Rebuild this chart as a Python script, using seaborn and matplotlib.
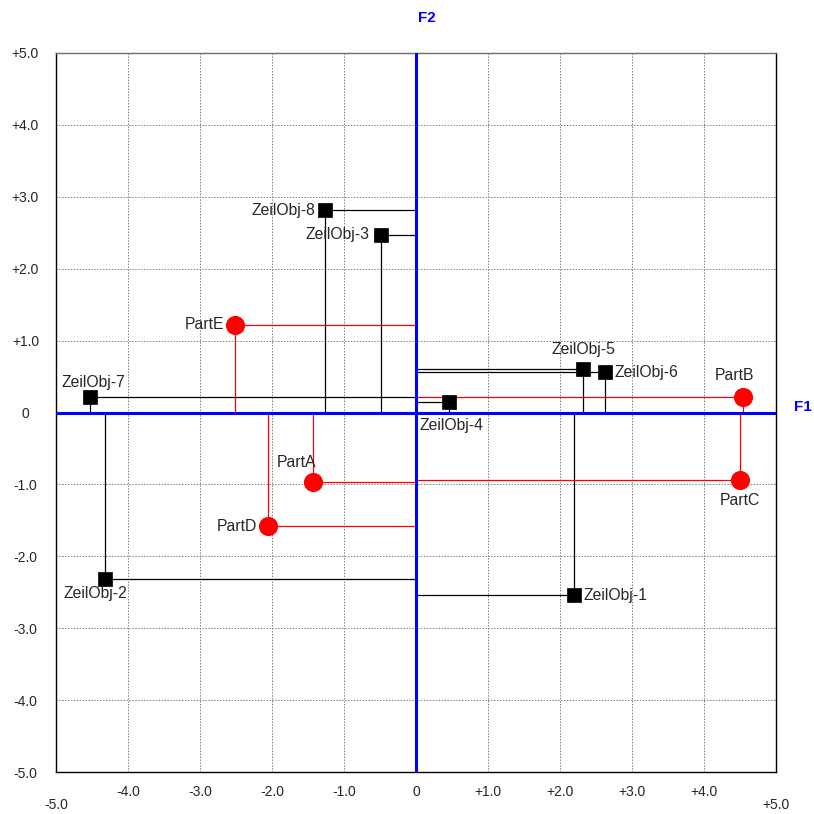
import numpy as np
import pandas as pd
import matplotlib
matplotlib.use("Agg")
import matplotlib.pyplot as plt
import seaborn as sns

# Zeilenobjekte (schwarze Quadrate)
row_names = ["ZeilObj-1", "ZeilObj-2", "ZeilObj-3", "ZeilObj-4",
             "ZeilObj-5", "ZeilObj-6", "ZeilObj-7", "ZeilObj-8"]
row_f1 = [2.19, -4.32, -0.49, 0.46, 2.32, 2.62, -4.53, -1.26]
row_f2 = [-2.54, -2.31, 2.47, 0.14, 0.61, 0.56, 0.21, 2.81]

# Spaltenobjekte (rote Kreise)
col_names = ["PartA", "PartB", "PartC", "PartD", "PartE"]
col_f1 = [-1.43, 4.54, 4.50, -2.06, -2.51]
col_f2 = [-0.97, 0.22, -0.94, -1.58, 1.22]

ticks = [-5, -4, -3, -2, -1, 0, 1, 2, 3, 4, 5]

# Beschriftungs-Offsets (Pixel) und Ausrichtung
row_offsets = {
    "ZeilObj-1": (10, 0, "left"), "ZeilObj-2": (-10, -15, "center"),
    "ZeilObj-3": (-11, 0, "right"), "ZeilObj-4": (2, -23, "center"),
    "ZeilObj-5": (0, 19, "center"), "ZeilObj-6": (10, 0, "left"),
    "ZeilObj-7": (4, 15, "center"), "ZeilObj-8": (-10, 0, "right"),
}
col_offsets = {
    "PartA": (-17, 20, "center"), "PartB": (-8, 21, "center"),
    "PartC": (0, -20, "center"), "PartD": (-11, 0, "right"),
    "PartE": (-11, 0, "right"),
}

rows = pd.DataFrame({"name": row_names, "F1": row_f1, "F2": row_f2})
cols = pd.DataFrame({"name": col_names, "F1": col_f1, "F2": col_f2})

sns.set_style("white")
plt.rcParams["font.family"] = ["Liberation Sans", "DejaVu Sans"]

fig = plt.figure(figsize=(8.14, 8.14), dpi=100)
ax = fig.add_axes([56 / 814, 42 / 814, 720 / 814, 719 / 814])

# Projektionslinien auf die Achsen
ax.hlines(rows["F2"], 0, rows["F1"], color="black", lw=0.9, zorder=2)
ax.vlines(rows["F1"], 0, rows["F2"], color="black", lw=0.9, zorder=2)
ax.hlines(cols["F2"], 0, cols["F1"], color="red", lw=0.9, zorder=2)
ax.vlines(cols["F1"], 0, cols["F2"], color="red", lw=0.9, zorder=2)

# Achsen F1 / F2
ax.axhline(0, color="#0000ff", lw=2.2, zorder=3)
ax.axvline(0, color="#0000ff", lw=2.2, zorder=3)

sns.scatterplot(data=rows, x="F1", y="F2", marker="s", s=110, color="black",
                edgecolor="black", linewidth=0.5, ax=ax, zorder=4)
sns.scatterplot(data=cols, x="F1", y="F2", marker="o", s=190, color="#ff0000",
                edgecolor="#ff0000", linewidth=0, ax=ax, zorder=4)

for _, r in rows.iterrows():
    dx, dy, ha = row_offsets[r["name"]]
    ax.annotate(r["name"], (r["F1"], r["F2"]), xytext=(dx, dy),
                textcoords="offset pixels", ha=ha, va="center", fontsize=11.3,
                zorder=5)
for _, r in cols.iterrows():
    dx, dy, ha = col_offsets[r["name"]]
    ax.annotate(r["name"], (r["F1"], r["F2"]), xytext=(dx, dy),
                textcoords="offset pixels", ha=ha, va="center", fontsize=11.3,
                zorder=5)

ax.set_xlim(-5, 5)
ax.set_ylim(-5, 5)


def fmt(v):
    if v == 0:
        return "0"
    return f"{v:+.1f}"


inner = ticks[1:-1]
ax.set_xticks(inner)
ax.set_xticklabels([fmt(v) for v in inner])
ax.set_xticks([-5, 5], minor=True)
ax.set_xticklabels([fmt(-5), fmt(5)], minor=True)
ax.set_yticks(ticks)
ax.set_yticklabels([fmt(v) for v in ticks])
for lbl in ax.get_yticklabels():
    lbl.set_horizontalalignment("center")

ax.tick_params(axis="x", which="major", length=0, pad=9, labelsize=10)
ax.tick_params(axis="x", which="minor", length=0, pad=19, labelsize=10)
ax.tick_params(axis="y", length=0, pad=22, labelsize=10)

ax.grid(True, which="major", axis="both", color="#808080", ls=(0, (1.5, 1.5)), lw=0.7)
ax.grid(True, which="minor", axis="x", color="#808080", ls=(0, (1.5, 1.5)), lw=0.7)
ax.set_axisbelow(True)
for sp in ax.spines.values():
    sp.set_color("black")
    sp.set_linewidth(1.0)
ax.spines["top"].set_color("#707070")

ax.set_xlabel("")
ax.set_ylabel("")

ax.text(5.38, 0.07, "F1", color="#0000ff", fontweight="bold", fontsize=11,
        ha="center", va="center", clip_on=False)
ax.text(0.15, 5.49, "F2", color="#0000ff", fontweight="bold", fontsize=11,
        ha="center", va="center", clip_on=False)

fig.savefig("out.png", dpi=100)
